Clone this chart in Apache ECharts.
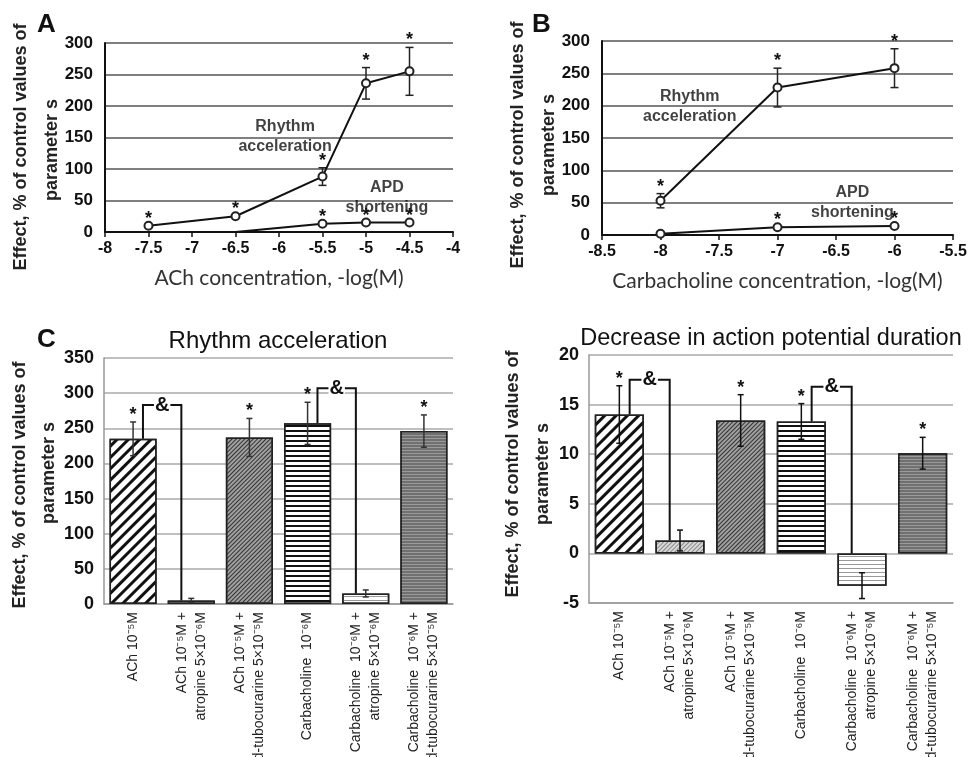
<!DOCTYPE html>
<html><head><meta charset="utf-8">
<script src="https://cdn.jsdelivr.net/npm/echarts@6/dist/echarts.min.js"></script>
<style>html,body{margin:0;padding:0;background:#fff}#c{width:968px;height:757px}</style>
</head><body><div id="c"></div>
<script>
// ---------- Panel A data ----------
const aRhythmX = [-7.5, -6.5, -5.5, -5, -4.5];
const aRhythm = [10, 25, 88, 236, 255];
const aRhythmErr = [0, 0, 14, 25, 38];
const aRhythmStar = [1, 1, 1, 1, 1];
const aApdX = [-6.5, -5.5, -5, -4.5];
const aApd = [0, 13, 15, 15];
const aApdStar = [0, 1, 1, 1];
const aXTicks = { min: -8, max: -4, step: 0.5 };
// ---------- Panel B data ----------
const bX = [-8, -7, -6];
const bRhythm = [53, 228, 258];
const bRhythmErr = [11, 30, 30];
const bRhythmStar = [1, 1, 1];
const bApd = [2, 12, 14];
const bApdStar = [0, 1, 1];
const bXTicks = { min: -8.5, max: -5.5, step: 0.5 };
// ---------- Panels C / D data ----------
const categories = [
  'ACh 10\u207B\u2075M',
  'ACh 10\u207B\u2075M +\natropine 5\u00D710\u207B\u2076M',
  'ACh 10\u207B\u2075M +\nd-tubocurarine 5\u00D710\u207B\u2075M',
  'Carbacholine  10\u207B\u2076M',
  'Carbacholine  10\u207B\u2076M +\natropine 5\u00D710\u207B\u2076M',
  'Carbacholine  10\u207B\u2076M +\nd-tubocurarine 5\u00D710\u207B\u2075M'
];
const cValues = [235, 5, 237, 257, 15, 246];
const cErr = [24, 3, 27, 30, 5, 23];
const dValues = [14.0, 1.3, 13.4, 13.3, -3.25, 10.1];
const dErr = [2.9, 1.05, 2.6, 1.8, 1.3, 1.6];
const barStars = [1, 0, 1, 1, 0, 1];
const cBrackets = [[0, 1, 283], [3, 4, 307]];
const dBrackets = [[0, 1, 17.5], [3, 4, 16.8]];
const cYTicks = { min: 0, max: 350, step: 50 };
const dYTicks = { min: -5, max: 20, step: 5 };
const abYTicks = { min: 0, max: 300, step: 50 };

// ---------- styles ----------
const AR = 'Liberation Sans';
const NARROW = '"Liberation Sans Narrow", "Liberation Sans"';
const decals = [
  { bg: '#ffffff', decal: { symbol: 'rect', symbolSize: 1, dashArrayX: [1, 0], dashArrayY: [3, 5], rotation: -Math.PI / 4, color: '#111' } },
  { bg: '#d8d8d8', decal: { symbol: 'rect', symbolSize: 1, dashArrayX: [1, 0], dashArrayY: [1, 2], rotation: -Math.PI / 4, color: '#888' } },
  { bg: '#a0a0a0', decal: { symbol: 'rect', symbolSize: 1, dashArrayX: [1, 0], dashArrayY: [1, 2], rotation: -Math.PI / 4, color: '#333' } },
  { bg: '#ffffff', decal: { symbol: 'rect', symbolSize: 1, dashArrayX: [1, 0], dashArrayY: [2, 3], rotation: 0, color: '#111' } },
  { bg: '#ffffff', decal: { symbol: 'rect', symbolSize: 1, dashArrayX: [1, 0], dashArrayY: [1, 3], rotation: 0, color: '#999' } },
  { bg: '#707070', decal: { symbol: 'rect', symbolSize: 1, dashArrayX: [1, 0], dashArrayY: [1, 2], rotation: 0, color: '#9a9a9a' } }
];

function errRender(cap, color) {
  return function (params, api) {
    const x = api.value(0), lo = api.value(1), hi = api.value(2);
    const p1 = api.coord([x, lo]), p2 = api.coord([x, hi]);
    const st = { stroke: color, lineWidth: 1.5 };
    return { type: 'group', children: [
      { type: 'line', shape: { x1: p1[0], y1: p1[1], x2: p2[0], y2: p2[1] }, style: st },
      { type: 'line', shape: { x1: p1[0] - cap, y1: p1[1], x2: p1[0] + cap, y2: p1[1] }, style: st },
      { type: 'line', shape: { x1: p2[0] - cap, y1: p2[1], x2: p2[0] + cap, y2: p2[1] }, style: st }
    ] };
  };
}
function starRender(params, api) {
  const p = api.coord([api.value(0), api.value(1)]);
  return { type: 'text', x: p[0], y: p[1] - 7, style: { text: '*', font: 'bold 18px ' + AR, fill: '#111', align: 'center', verticalAlign: 'middle', textAlign: 'center', textVerticalAlign: 'middle' } };
}
function bracketRender(params, api) {
  const from = api.value(0), to = api.value(1), h = api.value(2), fTop = api.value(3), tTop = api.value(4);
  const band = api.size([1, 0])[0];
  const pf = api.coord([from, fTop]), pt = api.coord([to, tTop]), ph = api.coord([from, h]);
  const x1 = pf[0] + 0.17 * band, x2 = pt[0] - 0.17 * band;
  return { type: 'group', children: [
    { type: 'polyline', shape: { points: [[x1, pf[1]], [x1, ph[1]], [x2, ph[1]], [x2, pt[1]]] }, style: { stroke: '#111', lineWidth: 2, fill: null } },
    { type: 'text', x: (x1 + x2) / 2, y: ph[1], style: { text: '&', font: 'bold 20px ' + AR, fill: '#111', align: 'center', verticalAlign: 'middle', textAlign: 'center', textVerticalAlign: 'middle', backgroundColor: '#fff', padding: [0, 1] } }
  ] };
}

// ---------- build series data ----------
const pairs = (xs, ys) => xs.map((x, i) => [x, ys[i]]);
const errData = (xs, ys, es) => xs.map((x, i) => [x, ys[i] - es[i], ys[i] + es[i]]).filter((d, i) => es[i] > 0);
const starData = (xs, ys, es, flags) => xs.map((x, i) => [x, ys[i] + es[i]]).filter((d, i) => flags[i]);
const idx = categories.map((c, i) => i);

function barSeries(vals, xi, yi) {
  return { type: 'bar', xAxisIndex: xi, yAxisIndex: yi, barCategoryGap: '19%', z: 2,
    data: vals.map((v, i) => ({ value: v, itemStyle: { color: decals[i].bg, decal: decals[i].decal, borderColor: '#222', borderWidth: 1.5 } })) };
}

const lineAxisX = (g, t, name) => ({
  gridIndex: g, type: 'value', min: t.min, max: t.max, interval: t.step,
  axisLine: { onZero: false, lineStyle: { color: '#111', width: 2 } },
  axisTick: { show: true, length: 5, lineStyle: { color: '#111', width: 1.5 } },
  axisLabel: { fontFamily: AR, fontWeight: 'bold', fontSize: 16, color: '#111', margin: 9 },
  splitLine: { show: false },
  name: name, nameLocation: 'middle', nameGap: 36,
  nameTextStyle: { fontFamily: 'Lato', fontSize: 21, color: '#333' }
});
const lineAxisY = (g, t) => ({
  gridIndex: g, type: 'value', min: t.min, max: t.max, interval: t.step,
  axisLine: { show: true, lineStyle: { color: '#111', width: 2 } },
  axisTick: { show: false },
  axisLabel: { fontFamily: AR, fontWeight: 'bold', fontSize: 17, color: '#111', margin: 12 },
  splitLine: { lineStyle: { color: '#555', width: 1.5 } }
});
const barAxisX = (g) => ({
  gridIndex: g, type: 'category', data: categories,
  axisLine: { onZero: false, lineStyle: { color: '#999', width: 1.5 } },
  axisTick: { show: false },
  axisLabel: { rotate: 90, fontFamily: NARROW, fontSize: 14, lineHeight: 19, color: '#222', margin: 8, interval: 0 }
});
const barAxisY = (g, t) => ({
  gridIndex: g, type: 'value', min: t.min, max: t.max, interval: t.step,
  axisLine: { show: true, lineStyle: { color: '#999', width: 1.5 } },
  axisTick: { show: false },
  axisLabel: { fontFamily: AR, fontWeight: 'bold', fontSize: 18, color: '#111', margin: 10 },
  splitLine: { lineStyle: { color: '#aaa', width: 1.5 } }
});

const lineStyleSeries = (xi, data) => ({
  type: 'line', xAxisIndex: xi, yAxisIndex: xi, data: data, z: 5,
  symbol: 'emptyCircle', symbolSize: 8,
  itemStyle: { color: '#222', borderWidth: 1.5 },
  lineStyle: { color: '#111', width: 2 }
});
const annot = (xi, items) => ({
  type: 'scatter', xAxisIndex: xi, yAxisIndex: xi, symbolSize: 0, z: 6, silent: true,
  data: items.map(d => ({ value: [d[0], d[1]], name: d[2] })),
  label: { show: true, position: 'inside', formatter: p => p.name, fontFamily: AR, fontWeight: 'bold', fontSize: 16, color: '#111', lineHeight: 20 }
});

const yName = (x, y, text) => ({ type: 'text', x: x, y: y, rotation: Math.PI / 2,
  style: { text: text, font: 'bold 18px ' + AR, fill: '#222', align: 'center', verticalAlign: 'middle', textAlign: 'center', textVerticalAlign: 'middle' } });
const letter = (x, y, t) => ({ type: 'text', x: x, y: y, style: { text: t, font: 'bold 26px ' + AR, fill: '#111' } });

const gridBase = { outerBoundsMode: 'none', containLabel: false };
const option = {
  animation: false,
  backgroundColor: '#fff',
  title: [
    { text: 'Rhythm acceleration', left: 273, top: 324, textAlign: 'center', textStyle: { fontFamily: AR, fontSize: 24, fontWeight: 'normal', color: '#111' } },
    { text: 'Decrease in action potential duration', left: 766, top: 322, textAlign: 'center', textStyle: { fontFamily: AR, fontSize: 23.5, fontWeight: 'normal', color: '#111' } }
  ],
  grid: [
    Object.assign({ left: 105, right: 515, top: 43, bottom: 525 }, gridBase),
    Object.assign({ left: 602, right: 15, top: 41, bottom: 522 }, gridBase),
    Object.assign({ left: 104, right: 515, top: 358, bottom: 153 }, gridBase),
    Object.assign({ left: 589, right: 15, top: 355, bottom: 154 }, gridBase)
  ],
  xAxis: [
    lineAxisX(0, aXTicks, 'ACh concentration, -log(M)'),
    lineAxisX(1, bXTicks, 'Carbacholine concentration, -log(M)'),
    barAxisX(2), barAxisX(3)
  ],
  yAxis: [
    lineAxisY(0, abYTicks), lineAxisY(1, abYTicks),
    barAxisY(2, cYTicks), barAxisY(3, dYTicks)
  ],
  series: [
    // Panel A
    { type: 'custom', xAxisIndex: 0, yAxisIndex: 0, z: 4, renderItem: errRender(4, '#222'), data: errData(aRhythmX, aRhythm, aRhythmErr) },
    lineStyleSeries(0, pairs(aRhythmX, aRhythm)),
    lineStyleSeries(0, pairs(aApdX, aApd).map((d, i) => i === 0 ? { value: d, symbol: 'none' } : d)),
    { type: 'custom', xAxisIndex: 0, yAxisIndex: 0, z: 7, renderItem: starRender, data: starData(aRhythmX, aRhythm, aRhythmErr, aRhythmStar) },
    { type: 'custom', xAxisIndex: 0, yAxisIndex: 0, z: 7, renderItem: starRender, data: starData(aApdX, aApd, aApdX.map(() => 0), aApdStar) },
    annot(0, [[-5.93, 152, 'Rhythm\nacceleration'], [-4.76, 55, 'APD\nshortening']]),
    // Panel B
    { type: 'custom', xAxisIndex: 1, yAxisIndex: 1, z: 4, renderItem: errRender(4, '#222'), data: errData(bX, bRhythm, bRhythmErr) },
    lineStyleSeries(1, pairs(bX, bRhythm)),
    lineStyleSeries(1, pairs(bX, bApd)),
    { type: 'custom', xAxisIndex: 1, yAxisIndex: 1, z: 7, renderItem: starRender, data: starData(bX, bRhythm, bRhythmErr, bRhythmStar) },
    { type: 'custom', xAxisIndex: 1, yAxisIndex: 1, z: 7, renderItem: starRender, data: starData(bX, bApd, bX.map(() => 0), bApdStar) },
    annot(1, [[-7.75, 198, 'Rhythm\nacceleration'], [-6.36, 50, 'APD\nshortening']]),
    // Panel C
    barSeries(cValues, 2, 2),
    { type: 'custom', xAxisIndex: 2, yAxisIndex: 2, z: 4, renderItem: errRender(3, '#333'), data: errData(idx, cValues, cErr) },
    { type: 'custom', xAxisIndex: 2, yAxisIndex: 2, z: 7, renderItem: starRender, data: starData(idx, cValues, cErr, barStars) },
    { type: 'custom', xAxisIndex: 2, yAxisIndex: 2, z: 6, renderItem: bracketRender, data: cBrackets.map(b => [b[0], b[1], b[2], Math.max(cValues[b[0]], 0), Math.max(cValues[b[1]], 0)]) },
    // Panel D
    barSeries(dValues, 3, 3),
    { type: 'custom', xAxisIndex: 3, yAxisIndex: 3, z: 4, renderItem: errRender(3, '#111'), data: errData(idx, dValues, dErr) },
    { type: 'custom', xAxisIndex: 3, yAxisIndex: 3, z: 7, renderItem: starRender, data: starData(idx, dValues, dErr, barStars) },
    { type: 'custom', xAxisIndex: 3, yAxisIndex: 3, z: 6, renderItem: bracketRender, data: dBrackets.map(b => [b[0], b[1], b[2], Math.max(dValues[b[0]], 0), Math.max(dValues[b[1]], 0)]) }
  ],
  graphic: [
    letter(37, 12, 'A'), letter(532, 12, 'B'), letter(37, 327, 'C'),
    yName(21, 147, 'Effect, % of control values of'), yName(52, 150, 'parameter s'),
    yName(518, 145, 'Effect, % of control values of'), yName(549, 145, 'parameter s'),
    yName(20, 485, 'Effect, % of control values of'), yName(49, 473, 'parameter s'),
    yName(513, 474, 'Effect, % of control values of'), yName(543, 474, 'parameter s')
  ]
};
const chart = echarts.init(document.getElementById('c'), null, { renderer: 'canvas' });
chart.setOption(option);
</script></body></html>
